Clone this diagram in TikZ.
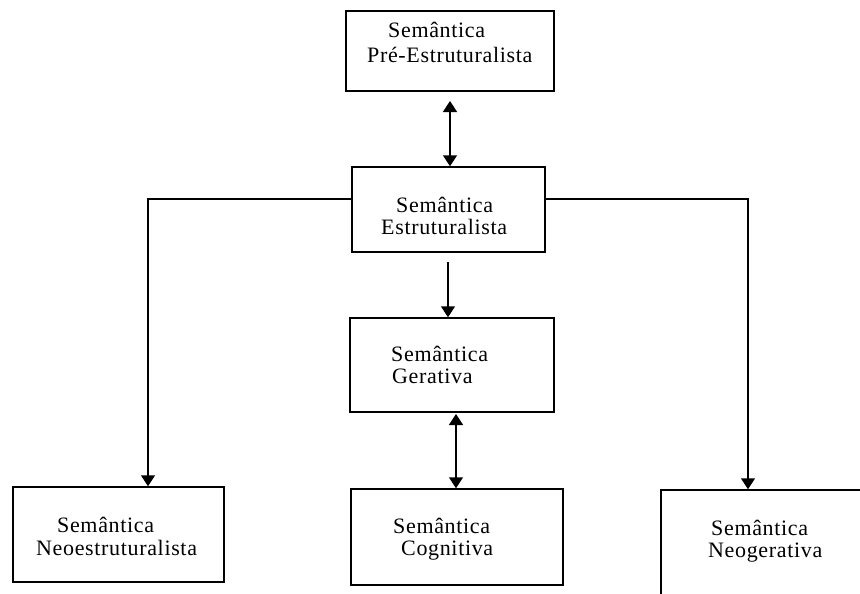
\documentclass[tikz,border=0pt]{standalone}
\usepackage{fontspec}
\setmainfont{Liberation Serif}[LetterSpace=3]
\usetikzlibrary{arrows.meta}
\begin{document}
\begin{tikzpicture}[x=1pt,y=-1pt,
  box/.style={draw,line width=1.5pt,rectangle,inner sep=0pt},
  txt/.style={anchor=base west,inner sep=0pt,font=\fontsize{22}{24}\selectfont},
  conn/.style={line width=1.6pt},
  tip/.style={-{Triangle[width=14pt,length=11pt]}},
  dtip/.style={{Triangle[width=14pt,length=11pt]}-{Triangle[width=14pt,length=11pt]}}
]
\useasboundingbox (0,0) rectangle (860,594);
% boxes
\node[box,minimum width=208pt,minimum height=80pt] (pre) at (450,51) {};
\node[box,minimum width=193pt,minimum height=85pt] (estr) at (448.5,209.5) {};
\node[box,minimum width=204pt,minimum height=94pt] (ger) at (452,365) {};
\node[box,minimum width=211pt,minimum height=95pt] (neoe) at (118.5,534.5) {};
\node[box,minimum width=212pt,minimum height=96pt] (cog) at (457,537) {};
\node[box,minimum width=230pt,minimum height=140pt] (neog) at (776,560) {};
% texts
\node[txt] (t1a) at (388,38) {Semântica};
\node[txt] (t1b) at (367,63) {Pré-Estruturalista};
\node[txt] (t2a) at (396,212) {Semântica};
\node[txt] (t2b) at (381,234) {Estruturalista};
\node[txt] (t3a) at (391,361) {Semântica};
\node[txt] (t3b) at (392,383) {Gerativa};
\node[txt] (t4a) at (57,532) {Semântica};
\node[txt] (t4b) at (36,555) {Neoestruturalista};
\node[txt] (t5a) at (393,533) {Semântica};
\node[txt] (t5b) at (401,555) {Cognitiva};
\node[txt] (t6a) at (711,535) {Semântica};
\node[txt] (t6b) at (708,557) {Neogerativa};
% connectors
\coordinate (lc) at (148,199);
\coordinate (rc) at (748,199);
\coordinate (gtop) at (450,101);
\coordinate (etop) at (448,262);
\coordinate (gcx) at (456,414);
\draw[conn,dtip] (gtop) -- (gtop |- estr.north);
\draw[conn,tip] (etop) -- (etop |- ger.north);
\draw[conn,dtip] (gcx) -- (gcx |- cog.north);
\draw[conn,tip] (estr.west |- lc) -- (lc) -- (lc |- neoe.north);
\draw[conn,tip] (estr.east |- rc) -- (rc) -- (rc |- neog.north);
\end{tikzpicture}
\end{document}
